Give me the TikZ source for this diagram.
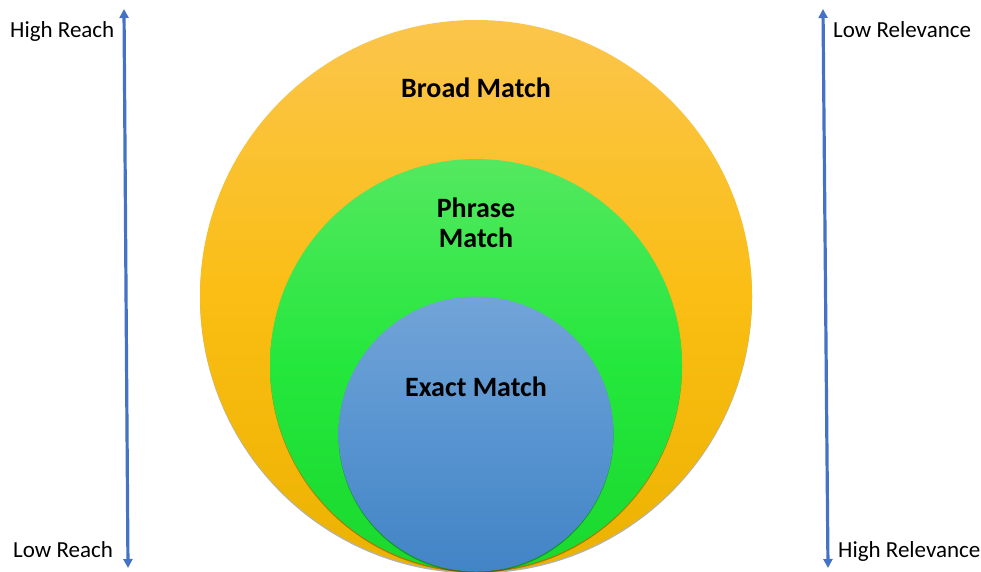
\documentclass[tikz,border=0pt]{standalone}
\usepackage{fontspec}
\setmainfont{Carlito}
\usetikzlibrary{shadows,arrows.meta}
\definecolor{arrowblue}{RGB}{68,114,196}
\definecolor{orTop}{RGB}{251,197,76}
\definecolor{orMid}{RGB}{250,190,20}
\definecolor{orBot}{RGB}{236,178,0}
\definecolor{grTop}{RGB}{84,232,96}
\definecolor{grMid}{RGB}{36,231,60}
\definecolor{grBot}{RGB}{26,216,46}
\definecolor{blTop}{RGB}{114,164,216}
\definecolor{blMid}{RGB}{88,148,208}
\definecolor{blBot}{RGB}{66,132,198}
\tikzset{
  ring/.style={circle, inner sep=0pt, outer sep=0pt,
    drop shadow={shadow xshift=0pt, shadow yshift=-1.5pt, opacity=0.3, fill=black}},
  sidelabel/.style={font=\fontsize{23}{26}\selectfont, text=black, inner sep=0pt},
  ringlabel/.style={font=\fontsize{28}{30}\selectfont\bfseries, text=black, align=center, inner sep=0pt},
  scale arrow/.style={draw=arrowblue, line width=3.2pt, {Triangle[length=9pt,width=9pt]}-{Triangle[length=9pt,width=9pt]}}
}
\begin{document}
\begin{tikzpicture}[x=1pt,y=-1pt]
\useasboundingbox (0,0) rectangle (981,571);
% circles
\node[ring, minimum size=552pt, top color=orTop, bottom color=orBot, middle color=orMid] (broad) at (476,296) {};
\node[ring, minimum size=412pt, top color=grTop, bottom color=grBot, middle color=grMid] (phrase) at (476,365) {};
\node[ring, minimum size=275pt, top color=blTop, bottom color=blBot, middle color=blMid] (exact) at (476,434) {};
% ring labels
\node[ringlabel, anchor=base] (broadtxt) at (476,97) {Broad Match};
\node[ringlabel, anchor=base] (phrasetxt) at (476,247) {Phrase\\Match};
\node[ringlabel, anchor=base] (exacttxt) at (476,396) {Exact Match};
% arrows
\coordinate (ltop) at (124,9);
\coordinate (lbot) at (128,568);
\coordinate (rtop) at (823,9);
\coordinate (rbot) at (828,568);
\draw[scale arrow] (lbot) -- (ltop);
\draw[scale arrow] (rbot) -- (rtop);
% side labels
\node[sidelabel, anchor=base west] (hr) at (10,37) {High Reach};
\node[sidelabel, anchor=base west] (lr) at (13,557) {Low Reach};
\node[sidelabel, anchor=base west] (lrel) at (833,37) {Low Relevance};
\node[sidelabel, anchor=base west] (hrel) at (838,557) {High Relevance};
\end{tikzpicture}
\end{document}
